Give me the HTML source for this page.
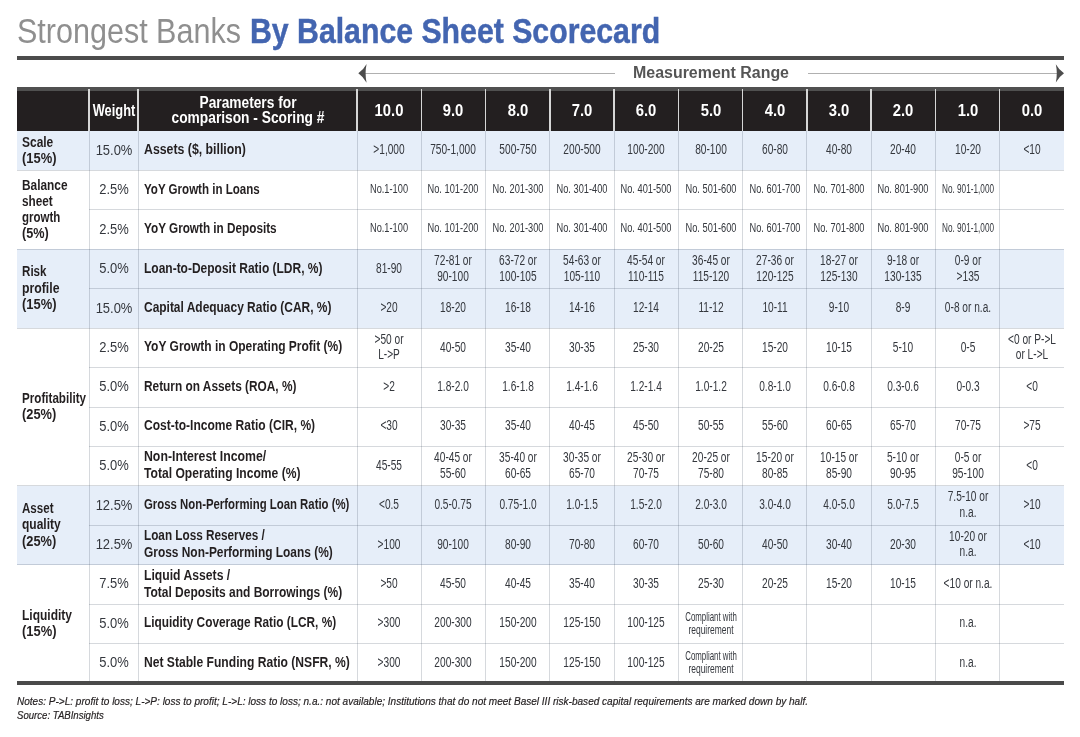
<!DOCTYPE html>
<html lang="en"><head><meta charset="utf-8"><title>Strongest Banks By Balance Sheet Scorecard</title><style>
html,body{margin:0;padding:0;background:#fff}
#pg{position:relative;width:1080px;height:737px;overflow:hidden;background:#fff;font-family:"Liberation Sans",sans-serif}
.r{position:absolute}
.t{position:absolute;white-space:nowrap;line-height:1;display:inline-block}
.l{transform-origin:0 50%}
.c{transform-origin:50% 50%}
.ttl1{color:#8f8f8f}
.ttl2{color:#4365b0;font-weight:bold;-webkit-text-stroke:0.45px #4365b0}
.mr{color:#555;font-weight:bold}
.hd{color:#fff;font-weight:bold}
.b{color:#231f20;font-weight:bold}
.w{color:#34373d}
.v{color:#34373d}
.n{color:#231f20;font-style:italic;-webkit-text-stroke:0.2px #231f20}
</style></head><body><div id="pg">
<span class="t l ttl1" style="left:17.00px;top:13.37px;font-size:35px;transform:scaleX(0.872)">Strongest Banks</span>
<span class="t l ttl2" style="left:250.00px;top:13.37px;font-size:35px;transform:scaleX(0.864)">By Balance Sheet Scorecard</span>
<div class="r" style="left:17.00px;top:55.80px;width:1047.00px;height:3.90px;background:#4c4c4c"></div>
<div class="r" style="left:365.00px;top:72.80px;width:250.00px;height:1.00px;background:#b0b0b0"></div>
<div class="r" style="left:808.00px;top:72.80px;width:249.00px;height:1.00px;background:#b0b0b0"></div>
<svg class="r" style="left:0;top:0" width="1080" height="100" viewBox="0 0 1080 100"><path d="M358.3 73.3 Q363.6 69.6 366.6 64 Q364.6 73.3 366.6 82.8 Q363.6 77 358.3 73.3 Z" fill="#4d4d4d"/><path d="M1064 73.3 Q1058.8 69.6 1055.8 64.2 Q1057.8 73.3 1055.8 82.6 Q1058.8 77 1064 73.3 Z" fill="#4d4d4d"/></svg>
<span class="t c mr" style="left:710.50px;top:65.06px;font-size:16px;transform:translateX(-50%) scaleX(0.9968)">Measurement Range</span>
<div class="r" style="left:17.00px;top:87.00px;width:1047.00px;height:44.05px;background:#231f20"></div>
<div class="r" style="left:17.00px;top:87.00px;width:1047.00px;height:3.50px;background:#505050"></div>
<div class="r" style="left:17.00px;top:131.05px;width:1047.00px;height:39.43px;background:#e6eef9"></div>
<div class="r" style="left:17.00px;top:249.34px;width:1047.00px;height:78.86px;background:#e6eef9"></div>
<div class="r" style="left:17.00px;top:485.92px;width:1047.00px;height:78.86px;background:#e6eef9"></div>
<div class="r" style="left:17.00px;top:169.98px;width:1047.00px;height:1.00px;background:rgba(70,80,100,0.22)"></div>
<div class="r" style="left:89.00px;top:209.41px;width:975.00px;height:1.00px;background:rgba(70,80,100,0.22)"></div>
<div class="r" style="left:17.00px;top:248.84px;width:1047.00px;height:1.00px;background:rgba(70,80,100,0.22)"></div>
<div class="r" style="left:89.00px;top:288.27px;width:975.00px;height:1.00px;background:rgba(70,80,100,0.22)"></div>
<div class="r" style="left:17.00px;top:327.70px;width:1047.00px;height:1.00px;background:rgba(70,80,100,0.22)"></div>
<div class="r" style="left:89.00px;top:367.13px;width:975.00px;height:1.00px;background:rgba(70,80,100,0.22)"></div>
<div class="r" style="left:89.00px;top:406.56px;width:975.00px;height:1.00px;background:rgba(70,80,100,0.22)"></div>
<div class="r" style="left:89.00px;top:445.99px;width:975.00px;height:1.00px;background:rgba(70,80,100,0.22)"></div>
<div class="r" style="left:17.00px;top:485.42px;width:1047.00px;height:1.00px;background:rgba(70,80,100,0.22)"></div>
<div class="r" style="left:89.00px;top:524.85px;width:975.00px;height:1.00px;background:rgba(70,80,100,0.22)"></div>
<div class="r" style="left:17.00px;top:564.28px;width:1047.00px;height:1.00px;background:rgba(70,80,100,0.22)"></div>
<div class="r" style="left:89.00px;top:603.71px;width:975.00px;height:1.00px;background:rgba(70,80,100,0.22)"></div>
<div class="r" style="left:89.00px;top:643.14px;width:975.00px;height:1.00px;background:rgba(70,80,100,0.22)"></div>
<div class="r" style="left:88.50px;top:131.05px;width:1.00px;height:552.02px;background:rgba(70,80,100,0.22)"></div>
<div class="r" style="left:88.30px;top:88.50px;width:1.40px;height:42.55px;background:#d6d6d6"></div>
<div class="r" style="left:137.50px;top:131.05px;width:1.00px;height:552.02px;background:rgba(70,80,100,0.22)"></div>
<div class="r" style="left:137.30px;top:88.50px;width:1.40px;height:42.55px;background:#d6d6d6"></div>
<div class="r" style="left:356.50px;top:131.05px;width:1.00px;height:552.02px;background:rgba(70,80,100,0.22)"></div>
<div class="r" style="left:356.30px;top:88.50px;width:1.40px;height:42.55px;background:#d6d6d6"></div>
<div class="r" style="left:420.77px;top:131.05px;width:1.00px;height:552.02px;background:rgba(70,80,100,0.22)"></div>
<div class="r" style="left:420.57px;top:88.50px;width:1.40px;height:42.55px;background:#d6d6d6"></div>
<div class="r" style="left:485.05px;top:131.05px;width:1.00px;height:552.02px;background:rgba(70,80,100,0.22)"></div>
<div class="r" style="left:484.85px;top:88.50px;width:1.40px;height:42.55px;background:#d6d6d6"></div>
<div class="r" style="left:549.32px;top:131.05px;width:1.00px;height:552.02px;background:rgba(70,80,100,0.22)"></div>
<div class="r" style="left:549.12px;top:88.50px;width:1.40px;height:42.55px;background:#d6d6d6"></div>
<div class="r" style="left:613.59px;top:131.05px;width:1.00px;height:552.02px;background:rgba(70,80,100,0.22)"></div>
<div class="r" style="left:613.39px;top:88.50px;width:1.40px;height:42.55px;background:#d6d6d6"></div>
<div class="r" style="left:677.86px;top:131.05px;width:1.00px;height:552.02px;background:rgba(70,80,100,0.22)"></div>
<div class="r" style="left:677.66px;top:88.50px;width:1.40px;height:42.55px;background:#d6d6d6"></div>
<div class="r" style="left:742.14px;top:131.05px;width:1.00px;height:552.02px;background:rgba(70,80,100,0.22)"></div>
<div class="r" style="left:741.94px;top:88.50px;width:1.40px;height:42.55px;background:#d6d6d6"></div>
<div class="r" style="left:806.41px;top:131.05px;width:1.00px;height:552.02px;background:rgba(70,80,100,0.22)"></div>
<div class="r" style="left:806.21px;top:88.50px;width:1.40px;height:42.55px;background:#d6d6d6"></div>
<div class="r" style="left:870.68px;top:131.05px;width:1.00px;height:552.02px;background:rgba(70,80,100,0.22)"></div>
<div class="r" style="left:870.48px;top:88.50px;width:1.40px;height:42.55px;background:#d6d6d6"></div>
<div class="r" style="left:934.95px;top:131.05px;width:1.00px;height:552.02px;background:rgba(70,80,100,0.22)"></div>
<div class="r" style="left:934.75px;top:88.50px;width:1.40px;height:42.55px;background:#d6d6d6"></div>
<div class="r" style="left:999.23px;top:131.05px;width:1.00px;height:552.02px;background:rgba(70,80,100,0.22)"></div>
<div class="r" style="left:999.03px;top:88.50px;width:1.40px;height:42.55px;background:#d6d6d6"></div>
<div class="r" style="left:17.00px;top:680.50px;width:1047.00px;height:4.00px;background:#4a4a4a"></div>
<span class="t c hd" style="left:114.00px;top:102.76px;font-size:16px;transform:translateX(-50%) scaleX(0.8014)">Weight</span>
<span class="t c hd" style="left:247.50px;top:94.63px;font-size:15.8px;transform:translateX(-50%) scaleX(0.8697)">Parameters for</span>
<span class="t c hd" style="left:247.50px;top:110.13px;font-size:15.8px;transform:translateX(-50%) scaleX(0.8713)">comparison - Scoring #</span>
<span class="t c hd" style="left:389.14px;top:102.19px;font-size:16.2px;transform:translateX(-50%) scaleX(0.915)">10.0</span>
<span class="t c hd" style="left:453.41px;top:102.19px;font-size:16.2px;transform:translateX(-50%) scaleX(0.915)">9.0</span>
<span class="t c hd" style="left:517.68px;top:102.19px;font-size:16.2px;transform:translateX(-50%) scaleX(0.915)">8.0</span>
<span class="t c hd" style="left:581.95px;top:102.19px;font-size:16.2px;transform:translateX(-50%) scaleX(0.915)">7.0</span>
<span class="t c hd" style="left:646.23px;top:102.19px;font-size:16.2px;transform:translateX(-50%) scaleX(0.915)">6.0</span>
<span class="t c hd" style="left:710.50px;top:102.19px;font-size:16.2px;transform:translateX(-50%) scaleX(0.915)">5.0</span>
<span class="t c hd" style="left:774.77px;top:102.19px;font-size:16.2px;transform:translateX(-50%) scaleX(0.915)">4.0</span>
<span class="t c hd" style="left:839.05px;top:102.19px;font-size:16.2px;transform:translateX(-50%) scaleX(0.915)">3.0</span>
<span class="t c hd" style="left:903.32px;top:102.19px;font-size:16.2px;transform:translateX(-50%) scaleX(0.915)">2.0</span>
<span class="t c hd" style="left:967.59px;top:102.19px;font-size:16.2px;transform:translateX(-50%) scaleX(0.915)">1.0</span>
<span class="t c hd" style="left:1031.86px;top:102.19px;font-size:16.2px;transform:translateX(-50%) scaleX(0.915)">0.0</span>
<span class="t l b" style="left:21.80px;top:135.15px;font-size:14px;transform:scaleX(0.8541)">Scale</span>
<span class="t l b" style="left:21.80px;top:151.15px;font-size:14px;transform:scaleX(0.9238)">(15%)</span>
<span class="t l b" style="left:21.80px;top:178.15px;font-size:14px;transform:scaleX(0.8473)">Balance</span>
<span class="t l b" style="left:21.80px;top:194.15px;font-size:14px;transform:scaleX(0.8408)">sheet</span>
<span class="t l b" style="left:21.80px;top:210.15px;font-size:14px;transform:scaleX(0.8198)">growth</span>
<span class="t l b" style="left:21.80px;top:226.15px;font-size:14px;transform:scaleX(0.9049)">(5%)</span>
<span class="t l b" style="left:21.80px;top:264.45px;font-size:14px;transform:scaleX(0.8285)">Risk</span>
<span class="t l b" style="left:21.80px;top:280.65px;font-size:14px;transform:scaleX(0.8766)">profile</span>
<span class="t l b" style="left:21.80px;top:296.95px;font-size:14px;transform:scaleX(0.9238)">(15%)</span>
<span class="t l b" style="left:21.80px;top:391.15px;font-size:14px;transform:scaleX(0.8311)">Profitability</span>
<span class="t l b" style="left:21.80px;top:407.15px;font-size:14px;transform:scaleX(0.9184)">(25%)</span>
<span class="t l b" style="left:21.80px;top:500.95px;font-size:14px;transform:scaleX(0.8261)">Asset</span>
<span class="t l b" style="left:21.80px;top:517.45px;font-size:14px;transform:scaleX(0.8577)">quality</span>
<span class="t l b" style="left:21.80px;top:533.55px;font-size:14px;transform:scaleX(0.9184)">(25%)</span>
<span class="t l b" style="left:21.80px;top:608.15px;font-size:14px;transform:scaleX(0.8573)">Liquidity</span>
<span class="t l b" style="left:21.80px;top:624.15px;font-size:14px;transform:scaleX(0.9238)">(15%)</span>
<span class="t c w" style="left:114.00px;top:141.85px;font-size:15.3px;transform:translateX(-50%) scaleX(0.847)">15.0%</span>
<span class="t l b" style="left:143.60px;top:142.25px;font-size:14px;transform:scaleX(0.8791)">Assets ($, billion)</span>
<span class="t c v" style="left:389.14px;top:142.45px;font-size:14px;transform:translateX(-50%) scaleX(0.725)">&gt;1,000</span>
<span class="t c v" style="left:453.41px;top:142.45px;font-size:14px;transform:translateX(-50%) scaleX(0.725)">750-1,000</span>
<span class="t c v" style="left:517.68px;top:142.45px;font-size:14px;transform:translateX(-50%) scaleX(0.725)">500-750</span>
<span class="t c v" style="left:581.95px;top:142.45px;font-size:14px;transform:translateX(-50%) scaleX(0.725)">200-500</span>
<span class="t c v" style="left:646.23px;top:142.45px;font-size:14px;transform:translateX(-50%) scaleX(0.725)">100-200</span>
<span class="t c v" style="left:710.50px;top:142.45px;font-size:14px;transform:translateX(-50%) scaleX(0.725)">80-100</span>
<span class="t c v" style="left:774.77px;top:142.45px;font-size:14px;transform:translateX(-50%) scaleX(0.725)">60-80</span>
<span class="t c v" style="left:839.05px;top:142.45px;font-size:14px;transform:translateX(-50%) scaleX(0.725)">40-80</span>
<span class="t c v" style="left:903.32px;top:142.45px;font-size:14px;transform:translateX(-50%) scaleX(0.725)">20-40</span>
<span class="t c v" style="left:967.59px;top:142.45px;font-size:14px;transform:translateX(-50%) scaleX(0.725)">10-20</span>
<span class="t c v" style="left:1031.86px;top:142.45px;font-size:14px;transform:translateX(-50%) scaleX(0.725)">&lt;10</span>
<span class="t c w" style="left:114.00px;top:181.27px;font-size:15.3px;transform:translateX(-50%) scaleX(0.847)">2.5%</span>
<span class="t l b" style="left:143.60px;top:181.67px;font-size:14px;transform:scaleX(0.8248)">YoY Growth in Loans</span>
<span class="t c v" style="left:389.14px;top:181.62px;font-size:13.7px;transform:translateX(-50%) scaleX(0.676)">No.1-100</span>
<span class="t c v" style="left:453.41px;top:181.62px;font-size:13.7px;transform:translateX(-50%) scaleX(0.676)">No. 101-200</span>
<span class="t c v" style="left:517.68px;top:181.62px;font-size:13.7px;transform:translateX(-50%) scaleX(0.676)">No. 201-300</span>
<span class="t c v" style="left:581.95px;top:181.62px;font-size:13.7px;transform:translateX(-50%) scaleX(0.676)">No. 301-400</span>
<span class="t c v" style="left:646.23px;top:181.62px;font-size:13.7px;transform:translateX(-50%) scaleX(0.676)">No. 401-500</span>
<span class="t c v" style="left:710.50px;top:181.62px;font-size:13.7px;transform:translateX(-50%) scaleX(0.676)">No. 501-600</span>
<span class="t c v" style="left:774.77px;top:181.62px;font-size:13.7px;transform:translateX(-50%) scaleX(0.676)">No. 601-700</span>
<span class="t c v" style="left:839.05px;top:181.62px;font-size:13.7px;transform:translateX(-50%) scaleX(0.676)">No. 701-800</span>
<span class="t c v" style="left:903.32px;top:181.62px;font-size:13.7px;transform:translateX(-50%) scaleX(0.676)">No. 801-900</span>
<span class="t c v" style="left:967.59px;top:181.62px;font-size:13.7px;transform:translateX(-50%) scaleX(0.6)">No. 901-1,000</span>
<span class="t c w" style="left:114.00px;top:220.69px;font-size:15.3px;transform:translateX(-50%) scaleX(0.847)">2.5%</span>
<span class="t l b" style="left:143.60px;top:221.09px;font-size:14px;transform:scaleX(0.8384)">YoY Growth in Deposits</span>
<span class="t c v" style="left:389.14px;top:221.04px;font-size:13.7px;transform:translateX(-50%) scaleX(0.676)">No.1-100</span>
<span class="t c v" style="left:453.41px;top:221.04px;font-size:13.7px;transform:translateX(-50%) scaleX(0.676)">No. 101-200</span>
<span class="t c v" style="left:517.68px;top:221.04px;font-size:13.7px;transform:translateX(-50%) scaleX(0.676)">No. 201-300</span>
<span class="t c v" style="left:581.95px;top:221.04px;font-size:13.7px;transform:translateX(-50%) scaleX(0.676)">No. 301-400</span>
<span class="t c v" style="left:646.23px;top:221.04px;font-size:13.7px;transform:translateX(-50%) scaleX(0.676)">No. 401-500</span>
<span class="t c v" style="left:710.50px;top:221.04px;font-size:13.7px;transform:translateX(-50%) scaleX(0.676)">No. 501-600</span>
<span class="t c v" style="left:774.77px;top:221.04px;font-size:13.7px;transform:translateX(-50%) scaleX(0.676)">No. 601-700</span>
<span class="t c v" style="left:839.05px;top:221.04px;font-size:13.7px;transform:translateX(-50%) scaleX(0.676)">No. 701-800</span>
<span class="t c v" style="left:903.32px;top:221.04px;font-size:13.7px;transform:translateX(-50%) scaleX(0.676)">No. 801-900</span>
<span class="t c v" style="left:967.59px;top:221.04px;font-size:13.7px;transform:translateX(-50%) scaleX(0.6)">No. 901-1,000</span>
<span class="t c w" style="left:114.00px;top:260.11px;font-size:15.3px;transform:translateX(-50%) scaleX(0.847)">5.0%</span>
<span class="t l b" style="left:143.60px;top:260.51px;font-size:14px;transform:scaleX(0.8564)">Loan-to-Deposit Ratio (LDR, %)</span>
<span class="t c v" style="left:389.14px;top:260.71px;font-size:14px;transform:translateX(-50%) scaleX(0.725)">81-90</span>
<span class="t c v" style="left:453.41px;top:252.91px;font-size:14px;transform:translateX(-50%) scaleX(0.725)">72-81 or</span>
<span class="t c v" style="left:453.41px;top:268.51px;font-size:14px;transform:translateX(-50%) scaleX(0.725)">90-100</span>
<span class="t c v" style="left:517.68px;top:252.91px;font-size:14px;transform:translateX(-50%) scaleX(0.725)">63-72 or</span>
<span class="t c v" style="left:517.68px;top:268.51px;font-size:14px;transform:translateX(-50%) scaleX(0.725)">100-105</span>
<span class="t c v" style="left:581.95px;top:252.91px;font-size:14px;transform:translateX(-50%) scaleX(0.725)">54-63 or</span>
<span class="t c v" style="left:581.95px;top:268.51px;font-size:14px;transform:translateX(-50%) scaleX(0.725)">105-110</span>
<span class="t c v" style="left:646.23px;top:252.91px;font-size:14px;transform:translateX(-50%) scaleX(0.725)">45-54 or</span>
<span class="t c v" style="left:646.23px;top:268.51px;font-size:14px;transform:translateX(-50%) scaleX(0.725)">110-115</span>
<span class="t c v" style="left:710.50px;top:252.91px;font-size:14px;transform:translateX(-50%) scaleX(0.725)">36-45 or</span>
<span class="t c v" style="left:710.50px;top:268.51px;font-size:14px;transform:translateX(-50%) scaleX(0.725)">115-120</span>
<span class="t c v" style="left:774.77px;top:252.91px;font-size:14px;transform:translateX(-50%) scaleX(0.725)">27-36 or</span>
<span class="t c v" style="left:774.77px;top:268.51px;font-size:14px;transform:translateX(-50%) scaleX(0.725)">120-125</span>
<span class="t c v" style="left:839.05px;top:252.91px;font-size:14px;transform:translateX(-50%) scaleX(0.725)">18-27 or</span>
<span class="t c v" style="left:839.05px;top:268.51px;font-size:14px;transform:translateX(-50%) scaleX(0.725)">125-130</span>
<span class="t c v" style="left:903.32px;top:252.91px;font-size:14px;transform:translateX(-50%) scaleX(0.725)">9-18 or</span>
<span class="t c v" style="left:903.32px;top:268.51px;font-size:14px;transform:translateX(-50%) scaleX(0.725)">130-135</span>
<span class="t c v" style="left:967.59px;top:252.91px;font-size:14px;transform:translateX(-50%) scaleX(0.725)">0-9 or</span>
<span class="t c v" style="left:967.59px;top:268.51px;font-size:14px;transform:translateX(-50%) scaleX(0.725)">&gt;135</span>
<span class="t c w" style="left:114.00px;top:299.53px;font-size:15.3px;transform:translateX(-50%) scaleX(0.847)">15.0%</span>
<span class="t l b" style="left:143.60px;top:299.93px;font-size:14px;transform:scaleX(0.8533)">Capital Adequacy Ratio (CAR, %)</span>
<span class="t c v" style="left:389.14px;top:300.13px;font-size:14px;transform:translateX(-50%) scaleX(0.725)">&gt;20</span>
<span class="t c v" style="left:453.41px;top:300.13px;font-size:14px;transform:translateX(-50%) scaleX(0.725)">18-20</span>
<span class="t c v" style="left:517.68px;top:300.13px;font-size:14px;transform:translateX(-50%) scaleX(0.725)">16-18</span>
<span class="t c v" style="left:581.95px;top:300.13px;font-size:14px;transform:translateX(-50%) scaleX(0.725)">14-16</span>
<span class="t c v" style="left:646.23px;top:300.13px;font-size:14px;transform:translateX(-50%) scaleX(0.725)">12-14</span>
<span class="t c v" style="left:710.50px;top:300.13px;font-size:14px;transform:translateX(-50%) scaleX(0.725)">11-12</span>
<span class="t c v" style="left:774.77px;top:300.13px;font-size:14px;transform:translateX(-50%) scaleX(0.725)">10-11</span>
<span class="t c v" style="left:839.05px;top:300.13px;font-size:14px;transform:translateX(-50%) scaleX(0.725)">9-10</span>
<span class="t c v" style="left:903.32px;top:300.13px;font-size:14px;transform:translateX(-50%) scaleX(0.725)">8-9</span>
<span class="t c v" style="left:967.59px;top:300.13px;font-size:14px;transform:translateX(-50%) scaleX(0.725)">0-8 or n.a.</span>
<span class="t c w" style="left:114.00px;top:338.95px;font-size:15.3px;transform:translateX(-50%) scaleX(0.847)">2.5%</span>
<span class="t l b" style="left:143.60px;top:339.35px;font-size:14px;transform:scaleX(0.857)">YoY Growth in Operating Profit (%)</span>
<span class="t c v" style="left:389.14px;top:331.75px;font-size:14px;transform:translateX(-50%) scaleX(0.725)">&gt;50 or</span>
<span class="t c v" style="left:389.14px;top:347.35px;font-size:14px;transform:translateX(-50%) scaleX(0.725)">L-&gt;P</span>
<span class="t c v" style="left:453.41px;top:339.55px;font-size:14px;transform:translateX(-50%) scaleX(0.725)">40-50</span>
<span class="t c v" style="left:517.68px;top:339.55px;font-size:14px;transform:translateX(-50%) scaleX(0.725)">35-40</span>
<span class="t c v" style="left:581.95px;top:339.55px;font-size:14px;transform:translateX(-50%) scaleX(0.725)">30-35</span>
<span class="t c v" style="left:646.23px;top:339.55px;font-size:14px;transform:translateX(-50%) scaleX(0.725)">25-30</span>
<span class="t c v" style="left:710.50px;top:339.55px;font-size:14px;transform:translateX(-50%) scaleX(0.725)">20-25</span>
<span class="t c v" style="left:774.77px;top:339.55px;font-size:14px;transform:translateX(-50%) scaleX(0.725)">15-20</span>
<span class="t c v" style="left:839.05px;top:339.55px;font-size:14px;transform:translateX(-50%) scaleX(0.725)">10-15</span>
<span class="t c v" style="left:903.32px;top:339.55px;font-size:14px;transform:translateX(-50%) scaleX(0.725)">5-10</span>
<span class="t c v" style="left:967.59px;top:339.55px;font-size:14px;transform:translateX(-50%) scaleX(0.725)">0-5</span>
<span class="t c v" style="left:1031.86px;top:331.75px;font-size:14px;transform:translateX(-50%) scaleX(0.725)">&lt;0 or P-&gt;L</span>
<span class="t c v" style="left:1031.86px;top:347.35px;font-size:14px;transform:translateX(-50%) scaleX(0.725)">or L-&gt;L</span>
<span class="t c w" style="left:114.00px;top:378.37px;font-size:15.3px;transform:translateX(-50%) scaleX(0.847)">5.0%</span>
<span class="t l b" style="left:143.60px;top:378.77px;font-size:14px;transform:scaleX(0.8469)">Return on Assets (ROA, %)</span>
<span class="t c v" style="left:389.14px;top:378.97px;font-size:14px;transform:translateX(-50%) scaleX(0.725)">&gt;2</span>
<span class="t c v" style="left:453.41px;top:378.97px;font-size:14px;transform:translateX(-50%) scaleX(0.725)">1.8-2.0</span>
<span class="t c v" style="left:517.68px;top:378.97px;font-size:14px;transform:translateX(-50%) scaleX(0.725)">1.6-1.8</span>
<span class="t c v" style="left:581.95px;top:378.97px;font-size:14px;transform:translateX(-50%) scaleX(0.725)">1.4-1.6</span>
<span class="t c v" style="left:646.23px;top:378.97px;font-size:14px;transform:translateX(-50%) scaleX(0.725)">1.2-1.4</span>
<span class="t c v" style="left:710.50px;top:378.97px;font-size:14px;transform:translateX(-50%) scaleX(0.725)">1.0-1.2</span>
<span class="t c v" style="left:774.77px;top:378.97px;font-size:14px;transform:translateX(-50%) scaleX(0.725)">0.8-1.0</span>
<span class="t c v" style="left:839.05px;top:378.97px;font-size:14px;transform:translateX(-50%) scaleX(0.725)">0.6-0.8</span>
<span class="t c v" style="left:903.32px;top:378.97px;font-size:14px;transform:translateX(-50%) scaleX(0.725)">0.3-0.6</span>
<span class="t c v" style="left:967.59px;top:378.97px;font-size:14px;transform:translateX(-50%) scaleX(0.725)">0-0.3</span>
<span class="t c v" style="left:1031.86px;top:378.97px;font-size:14px;transform:translateX(-50%) scaleX(0.725)">&lt;0</span>
<span class="t c w" style="left:114.00px;top:417.79px;font-size:15.3px;transform:translateX(-50%) scaleX(0.847)">5.0%</span>
<span class="t l b" style="left:143.60px;top:418.19px;font-size:14px;transform:scaleX(0.8593)">Cost-to-Income Ratio (CIR, %)</span>
<span class="t c v" style="left:389.14px;top:418.39px;font-size:14px;transform:translateX(-50%) scaleX(0.725)">&lt;30</span>
<span class="t c v" style="left:453.41px;top:418.39px;font-size:14px;transform:translateX(-50%) scaleX(0.725)">30-35</span>
<span class="t c v" style="left:517.68px;top:418.39px;font-size:14px;transform:translateX(-50%) scaleX(0.725)">35-40</span>
<span class="t c v" style="left:581.95px;top:418.39px;font-size:14px;transform:translateX(-50%) scaleX(0.725)">40-45</span>
<span class="t c v" style="left:646.23px;top:418.39px;font-size:14px;transform:translateX(-50%) scaleX(0.725)">45-50</span>
<span class="t c v" style="left:710.50px;top:418.39px;font-size:14px;transform:translateX(-50%) scaleX(0.725)">50-55</span>
<span class="t c v" style="left:774.77px;top:418.39px;font-size:14px;transform:translateX(-50%) scaleX(0.725)">55-60</span>
<span class="t c v" style="left:839.05px;top:418.39px;font-size:14px;transform:translateX(-50%) scaleX(0.725)">60-65</span>
<span class="t c v" style="left:903.32px;top:418.39px;font-size:14px;transform:translateX(-50%) scaleX(0.725)">65-70</span>
<span class="t c v" style="left:967.59px;top:418.39px;font-size:14px;transform:translateX(-50%) scaleX(0.725)">70-75</span>
<span class="t c v" style="left:1031.86px;top:418.39px;font-size:14px;transform:translateX(-50%) scaleX(0.725)">&gt;75</span>
<span class="t c w" style="left:114.00px;top:457.21px;font-size:15.3px;transform:translateX(-50%) scaleX(0.847)">5.0%</span>
<span class="t l b" style="left:143.60px;top:449.41px;font-size:14px;transform:scaleX(0.8776)">Non-Interest Income/</span>
<span class="t l b" style="left:143.60px;top:466.31px;font-size:14px;transform:scaleX(0.8647)">Total Operating Income (%)</span>
<span class="t c v" style="left:389.14px;top:457.81px;font-size:14px;transform:translateX(-50%) scaleX(0.725)">45-55</span>
<span class="t c v" style="left:453.41px;top:450.01px;font-size:14px;transform:translateX(-50%) scaleX(0.725)">40-45 or</span>
<span class="t c v" style="left:453.41px;top:465.61px;font-size:14px;transform:translateX(-50%) scaleX(0.725)">55-60</span>
<span class="t c v" style="left:517.68px;top:450.01px;font-size:14px;transform:translateX(-50%) scaleX(0.725)">35-40 or</span>
<span class="t c v" style="left:517.68px;top:465.61px;font-size:14px;transform:translateX(-50%) scaleX(0.725)">60-65</span>
<span class="t c v" style="left:581.95px;top:450.01px;font-size:14px;transform:translateX(-50%) scaleX(0.725)">30-35 or</span>
<span class="t c v" style="left:581.95px;top:465.61px;font-size:14px;transform:translateX(-50%) scaleX(0.725)">65-70</span>
<span class="t c v" style="left:646.23px;top:450.01px;font-size:14px;transform:translateX(-50%) scaleX(0.725)">25-30 or</span>
<span class="t c v" style="left:646.23px;top:465.61px;font-size:14px;transform:translateX(-50%) scaleX(0.725)">70-75</span>
<span class="t c v" style="left:710.50px;top:450.01px;font-size:14px;transform:translateX(-50%) scaleX(0.725)">20-25 or</span>
<span class="t c v" style="left:710.50px;top:465.61px;font-size:14px;transform:translateX(-50%) scaleX(0.725)">75-80</span>
<span class="t c v" style="left:774.77px;top:450.01px;font-size:14px;transform:translateX(-50%) scaleX(0.725)">15-20 or</span>
<span class="t c v" style="left:774.77px;top:465.61px;font-size:14px;transform:translateX(-50%) scaleX(0.725)">80-85</span>
<span class="t c v" style="left:839.05px;top:450.01px;font-size:14px;transform:translateX(-50%) scaleX(0.725)">10-15 or</span>
<span class="t c v" style="left:839.05px;top:465.61px;font-size:14px;transform:translateX(-50%) scaleX(0.725)">85-90</span>
<span class="t c v" style="left:903.32px;top:450.01px;font-size:14px;transform:translateX(-50%) scaleX(0.725)">5-10 or</span>
<span class="t c v" style="left:903.32px;top:465.61px;font-size:14px;transform:translateX(-50%) scaleX(0.725)">90-95</span>
<span class="t c v" style="left:967.59px;top:450.01px;font-size:14px;transform:translateX(-50%) scaleX(0.725)">0-5 or</span>
<span class="t c v" style="left:967.59px;top:465.61px;font-size:14px;transform:translateX(-50%) scaleX(0.725)">95-100</span>
<span class="t c v" style="left:1031.86px;top:457.81px;font-size:14px;transform:translateX(-50%) scaleX(0.725)">&lt;0</span>
<span class="t c w" style="left:114.00px;top:496.63px;font-size:15.3px;transform:translateX(-50%) scaleX(0.847)">12.5%</span>
<span class="t l b" style="left:143.60px;top:497.03px;font-size:14px;transform:scaleX(0.8125)">Gross Non-Performing Loan Ratio (%)</span>
<span class="t c v" style="left:389.14px;top:497.23px;font-size:14px;transform:translateX(-50%) scaleX(0.725)">&lt;0.5</span>
<span class="t c v" style="left:453.41px;top:497.23px;font-size:14px;transform:translateX(-50%) scaleX(0.725)">0.5-0.75</span>
<span class="t c v" style="left:517.68px;top:497.23px;font-size:14px;transform:translateX(-50%) scaleX(0.725)">0.75-1.0</span>
<span class="t c v" style="left:581.95px;top:497.23px;font-size:14px;transform:translateX(-50%) scaleX(0.725)">1.0-1.5</span>
<span class="t c v" style="left:646.23px;top:497.23px;font-size:14px;transform:translateX(-50%) scaleX(0.725)">1.5-2.0</span>
<span class="t c v" style="left:710.50px;top:497.23px;font-size:14px;transform:translateX(-50%) scaleX(0.725)">2.0-3.0</span>
<span class="t c v" style="left:774.77px;top:497.23px;font-size:14px;transform:translateX(-50%) scaleX(0.725)">3.0-4.0</span>
<span class="t c v" style="left:839.05px;top:497.23px;font-size:14px;transform:translateX(-50%) scaleX(0.725)">4.0-5.0</span>
<span class="t c v" style="left:903.32px;top:497.23px;font-size:14px;transform:translateX(-50%) scaleX(0.725)">5.0-7.5</span>
<span class="t c v" style="left:967.59px;top:489.43px;font-size:14px;transform:translateX(-50%) scaleX(0.725)">7.5-10 or</span>
<span class="t c v" style="left:967.59px;top:505.03px;font-size:14px;transform:translateX(-50%) scaleX(0.725)">n.a.</span>
<span class="t c v" style="left:1031.86px;top:497.23px;font-size:14px;transform:translateX(-50%) scaleX(0.725)">&gt;10</span>
<span class="t c w" style="left:114.00px;top:536.05px;font-size:15.3px;transform:translateX(-50%) scaleX(0.847)">12.5%</span>
<span class="t l b" style="left:143.60px;top:528.25px;font-size:14px;transform:scaleX(0.8392)">Loan Loss Reserves /</span>
<span class="t l b" style="left:143.60px;top:545.15px;font-size:14px;transform:scaleX(0.8512)">Gross Non-Performing Loans (%)</span>
<span class="t c v" style="left:389.14px;top:536.65px;font-size:14px;transform:translateX(-50%) scaleX(0.725)">&gt;100</span>
<span class="t c v" style="left:453.41px;top:536.65px;font-size:14px;transform:translateX(-50%) scaleX(0.725)">90-100</span>
<span class="t c v" style="left:517.68px;top:536.65px;font-size:14px;transform:translateX(-50%) scaleX(0.725)">80-90</span>
<span class="t c v" style="left:581.95px;top:536.65px;font-size:14px;transform:translateX(-50%) scaleX(0.725)">70-80</span>
<span class="t c v" style="left:646.23px;top:536.65px;font-size:14px;transform:translateX(-50%) scaleX(0.725)">60-70</span>
<span class="t c v" style="left:710.50px;top:536.65px;font-size:14px;transform:translateX(-50%) scaleX(0.725)">50-60</span>
<span class="t c v" style="left:774.77px;top:536.65px;font-size:14px;transform:translateX(-50%) scaleX(0.725)">40-50</span>
<span class="t c v" style="left:839.05px;top:536.65px;font-size:14px;transform:translateX(-50%) scaleX(0.725)">30-40</span>
<span class="t c v" style="left:903.32px;top:536.65px;font-size:14px;transform:translateX(-50%) scaleX(0.725)">20-30</span>
<span class="t c v" style="left:967.59px;top:528.85px;font-size:14px;transform:translateX(-50%) scaleX(0.725)">10-20 or</span>
<span class="t c v" style="left:967.59px;top:544.45px;font-size:14px;transform:translateX(-50%) scaleX(0.725)">n.a.</span>
<span class="t c v" style="left:1031.86px;top:536.65px;font-size:14px;transform:translateX(-50%) scaleX(0.725)">&lt;10</span>
<span class="t c w" style="left:114.00px;top:575.47px;font-size:15.3px;transform:translateX(-50%) scaleX(0.847)">7.5%</span>
<span class="t l b" style="left:143.60px;top:567.67px;font-size:14px;transform:scaleX(0.8702)">Liquid Assets /</span>
<span class="t l b" style="left:143.60px;top:584.57px;font-size:14px;transform:scaleX(0.856)">Total Deposits and Borrowings (%)</span>
<span class="t c v" style="left:389.14px;top:576.07px;font-size:14px;transform:translateX(-50%) scaleX(0.725)">&gt;50</span>
<span class="t c v" style="left:453.41px;top:576.07px;font-size:14px;transform:translateX(-50%) scaleX(0.725)">45-50</span>
<span class="t c v" style="left:517.68px;top:576.07px;font-size:14px;transform:translateX(-50%) scaleX(0.725)">40-45</span>
<span class="t c v" style="left:581.95px;top:576.07px;font-size:14px;transform:translateX(-50%) scaleX(0.725)">35-40</span>
<span class="t c v" style="left:646.23px;top:576.07px;font-size:14px;transform:translateX(-50%) scaleX(0.725)">30-35</span>
<span class="t c v" style="left:710.50px;top:576.07px;font-size:14px;transform:translateX(-50%) scaleX(0.725)">25-30</span>
<span class="t c v" style="left:774.77px;top:576.07px;font-size:14px;transform:translateX(-50%) scaleX(0.725)">20-25</span>
<span class="t c v" style="left:839.05px;top:576.07px;font-size:14px;transform:translateX(-50%) scaleX(0.725)">15-20</span>
<span class="t c v" style="left:903.32px;top:576.07px;font-size:14px;transform:translateX(-50%) scaleX(0.725)">10-15</span>
<span class="t c v" style="left:967.59px;top:576.07px;font-size:14px;transform:translateX(-50%) scaleX(0.725)">&lt;10 or n.a.</span>
<span class="t c w" style="left:114.00px;top:614.89px;font-size:15.3px;transform:translateX(-50%) scaleX(0.847)">5.0%</span>
<span class="t l b" style="left:143.60px;top:615.29px;font-size:14px;transform:scaleX(0.8458)">Liquidity Coverage Ratio (LCR, %)</span>
<span class="t c v" style="left:389.14px;top:615.49px;font-size:14px;transform:translateX(-50%) scaleX(0.725)">&gt;300</span>
<span class="t c v" style="left:453.41px;top:615.49px;font-size:14px;transform:translateX(-50%) scaleX(0.725)">200-300</span>
<span class="t c v" style="left:517.68px;top:615.49px;font-size:14px;transform:translateX(-50%) scaleX(0.725)">150-200</span>
<span class="t c v" style="left:581.95px;top:615.49px;font-size:14px;transform:translateX(-50%) scaleX(0.725)">125-150</span>
<span class="t c v" style="left:646.23px;top:615.49px;font-size:14px;transform:translateX(-50%) scaleX(0.725)">100-125</span>
<span class="t c v" style="left:710.50px;top:609.54px;font-size:13px;transform:translateX(-50%) scaleX(0.6041)">Compliant with</span>
<span class="t c v" style="left:710.50px;top:622.54px;font-size:13px;transform:translateX(-50%) scaleX(0.6516)">requirement</span>
<span class="t c v" style="left:967.59px;top:615.49px;font-size:14px;transform:translateX(-50%) scaleX(0.725)">n.a.</span>
<span class="t c w" style="left:114.00px;top:654.31px;font-size:15.3px;transform:translateX(-50%) scaleX(0.847)">5.0%</span>
<span class="t l b" style="left:143.60px;top:654.71px;font-size:14px;transform:scaleX(0.8647)">Net Stable Funding Ratio (NSFR, %)</span>
<span class="t c v" style="left:389.14px;top:654.91px;font-size:14px;transform:translateX(-50%) scaleX(0.725)">&gt;300</span>
<span class="t c v" style="left:453.41px;top:654.91px;font-size:14px;transform:translateX(-50%) scaleX(0.725)">200-300</span>
<span class="t c v" style="left:517.68px;top:654.91px;font-size:14px;transform:translateX(-50%) scaleX(0.725)">150-200</span>
<span class="t c v" style="left:581.95px;top:654.91px;font-size:14px;transform:translateX(-50%) scaleX(0.725)">125-150</span>
<span class="t c v" style="left:646.23px;top:654.91px;font-size:14px;transform:translateX(-50%) scaleX(0.725)">100-125</span>
<span class="t c v" style="left:710.50px;top:648.96px;font-size:13px;transform:translateX(-50%) scaleX(0.6041)">Compliant with</span>
<span class="t c v" style="left:710.50px;top:661.96px;font-size:13px;transform:translateX(-50%) scaleX(0.6516)">requirement</span>
<span class="t c v" style="left:967.59px;top:654.91px;font-size:14px;transform:translateX(-50%) scaleX(0.725)">n.a.</span>
<span class="t l n" style="left:17.00px;top:696.17px;font-size:11.5px;transform:scaleX(0.873)">Notes: P-&gt;L: profit to loss; L-&gt;P: loss to profit; L-&gt;L: loss to loss; n.a.: not available; Institutions that do not meet Basel III risk-based capital requirements are marked down by half.</span>
<span class="t l n" style="left:17.00px;top:710.37px;font-size:11.5px;transform:scaleX(0.8343)">Source: TABInsights</span>
</div></body></html>
